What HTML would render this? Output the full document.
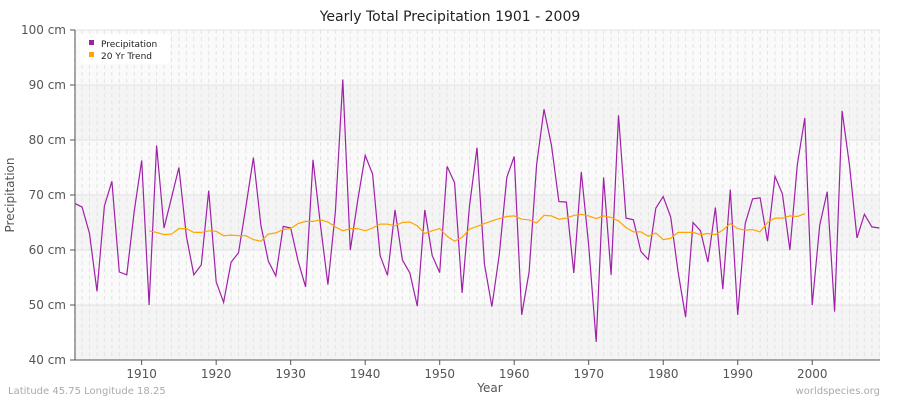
<!DOCTYPE html>
<html><head><meta charset="utf-8"><style>
body{margin:0;background:#fff;}
svg{display:block;font-family:"DejaVu Sans","Liberation Sans",sans-serif;}
</style></head><body>
<svg id="s" width="900" height="400" xmlns="http://www.w3.org/2000/svg">
<rect width="900" height="400" fill="#fff"/>
<g id="bg"></g><g id="grid"></g>
<line x1="75" y1="30" x2="75" y2="360" stroke="#555"/>
<line x1="75" y1="360" x2="880" y2="360" stroke="#555"/>
<g id="ticks" font-size="12" fill="#555"></g>
<polyline id="p" fill="none" stroke="#a020a8" stroke-width="1.2"/>
<polyline id="t" fill="none" stroke="#ffa500" stroke-width="1.2"/>
<text x="450" y="21" text-anchor="middle" font-size="14" fill="#222">Yearly Total Precipitation 1901 - 2009</text>
<text x="490" y="392" text-anchor="middle" font-size="12" fill="#555">Year</text>
<text x="14" y="195" text-anchor="middle" font-size="12" fill="#555" transform="rotate(-90 14 195)">Precipitation</text>
<text x="8" y="394" font-size="10" fill="#aaa">Latitude 45.75 Longitude 18.25</text>
<text x="880" y="394" text-anchor="end" font-size="10" fill="#aaa">worldspecies.org</text>
<rect x="80" y="34" width="90" height="30" rx="4" fill="#fff" opacity="0.9"/>
<rect x="89" y="40" width="5" height="5" fill="#a020a8"/>
<text x="101" y="47" font-size="9" fill="#222">Precipitation</text>
<rect x="89" y="52" width="5" height="5" fill="#ffa500"/>
<text x="101" y="59" font-size="9" fill="#222">20 Yr Trend</text>
</svg>
<script>
var X=function(y){return 74.6+(y-1901)*7.451},Y=function(v){return 360-(v-40)*5.5};
var ns="http://www.w3.org/2000/svg";
function el(p,n,a){var e=document.createElementNS(ns,n);for(var k in a)e.setAttribute(k,a[k]);document.getElementById(p).appendChild(e);return e;}
for(var i=0;i<6;i++){el("bg","rect",{x:75,y:Y(50+i*10),width:805,height:55,fill:(i%2==0)?"#f4f4f4":"#fafafa"});}
for(var y=1901;y<=2009;y++)el("grid","line",{x1:X(y),x2:X(y),y1:30,y2:360,stroke:"#e4e4e4","stroke-dasharray":"4,3"});
for(var v=50;v<=100;v+=10)el("grid","line",{x1:75,x2:880,y1:Y(v),y2:Y(v),stroke:"#e2e2e2"});
for(var v=40;v<=100;v+=10){el("ticks","line",{x1:70,x2:75,y1:Y(v),y2:Y(v),stroke:"#555"});var t=el("ticks","text",{x:66,y:Y(v)+4,"text-anchor":"end"});t.textContent=v+" cm";}
for(var y=1910;y<=2000;y+=10){el("ticks","line",{x1:X(y),x2:X(y),y1:360,y2:365,stroke:"#555"});var t=el("ticks","text",{x:X(y),y:378,"text-anchor":"middle"});t.textContent=y;}
var P=[68.5,67.8,63,52.5,68,72.5,56,55.5,67,76.3,50,79,64,69.5,75,62.5,55.5,57.3,70.8,54.2,50.5,57.8,59.5,68,76.8,64.5,58,55.3,64.3,64,58,53.3,76.4,64.5,53.7,67,91,60,69,77.2,73.8,59,55.4,67.3,58.2,55.8,49.8,67.3,59,55.9,75.2,72.2,52.2,68,78.6,57.5,49.7,59.2,73.2,77,48.2,56,75.5,85.6,79,68.8,68.7,55.8,74.2,60.8,43.3,73.2,55.5,84.5,65.8,65.5,59.7,58.3,67.6,69.7,66,56,47.8,65,63.5,57.8,67.7,52.9,71,48.2,64.8,69.3,69.5,61.6,73.4,70.2,60,75.5,84,50,64.5,70.6,48.8,85.3,75.4,62.2,66.5,64.2,64];
var T=[63.5,63.2,62.8,62.9,63.9,63.9,63.2,63.2,63.5,63.4,62.6,62.7,62.6,62.6,61.9,61.6,62.9,63.1,63.7,63.9,64.8,65.2,65.2,65.5,65.1,64.2,63.5,63.9,63.9,63.5,64,64.7,64.7,64.4,65,65.1,64.4,63,63.5,63.9,62.5,61.6,62.3,63.8,64.3,64.8,65.3,65.7,66.1,66.2,65.6,65.5,64.9,66.3,66.2,65.6,65.8,66.3,66.5,66.2,65.7,66.2,65.9,65.3,64.1,63.3,63.3,62.5,63.1,61.9,62.1,63.2,63.2,63.2,62.8,63,62.8,63.6,64.8,63.9,63.6,63.7,63.3,65,65.8,65.8,66.2,66.1,66.6];
document.getElementById("p").setAttribute("points",P.map(function(v,i){return X(1901+i).toFixed(1)+","+Y(v).toFixed(1)}).join(" "));
document.getElementById("t").setAttribute("points",T.map(function(v,i){return X(1911+i).toFixed(1)+","+Y(v).toFixed(1)}).join(" "));
</script>
</body></html>
